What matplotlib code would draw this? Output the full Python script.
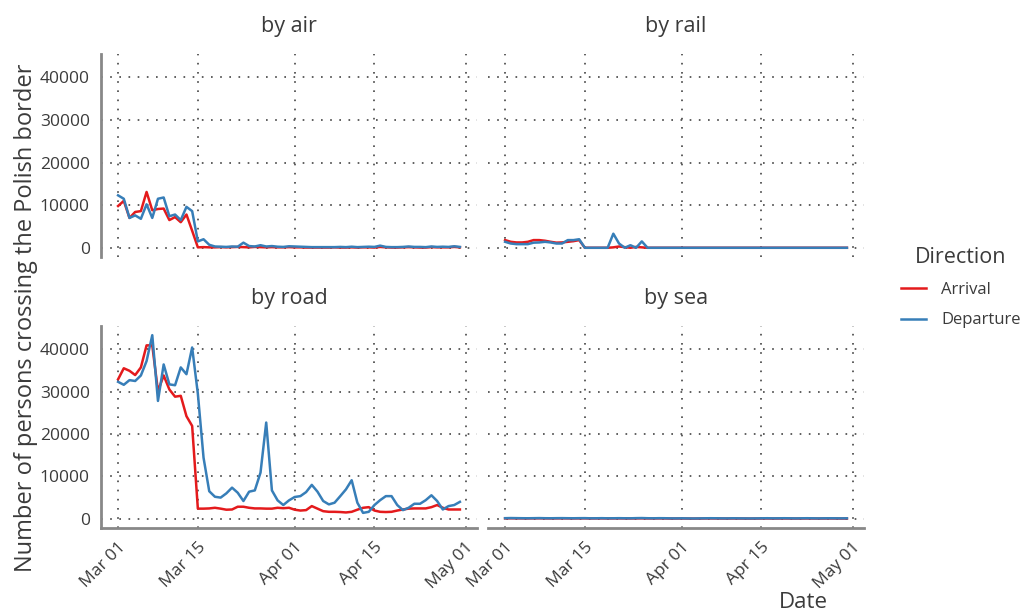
import numpy as np
import pandas as pd
import matplotlib
matplotlib.use("Agg")
import matplotlib.pyplot as plt
import matplotlib.dates as mdates
from matplotlib.lines import Line2D

plt.rcParams["font.family"] = ["Open Sans", "DejaVu Sans"]

dates = pd.date_range("2020-03-01", "2020-04-30", freq="D")

# daily border crossings, one list per transport mode and direction
air_arrival = [9800, 11000, 7000, 8400, 8600, 13100, 8800, 9100, 9200, 6500,
               7200, 6000, 7800, 4000, 100, 150, 100, 100, 150, 100,
               150, 200, 150, 100, 200, 150, 100, 150, 100, 100,
               150, 100, 100, 50, 50, 50, 50, 50, 100, 50,
               50, 100, 50, 100, 100, 50, 200, 100, 50, 50,
               100, 150, 100, 50, 50, 150, 100, 100, 100, 200, 100]
air_departure = [12300, 11500, 7000, 7600, 6800, 10200, 7000, 11500, 11800, 7400,
                 7800, 6500, 9600, 8600, 1500, 2000, 700, 300, 250, 200,
                 300, 250, 1200, 400, 300, 600, 300, 400, 250, 200,
                 350, 300, 250, 200, 150, 150, 150, 150, 150, 200,
                 150, 250, 150, 200, 250, 200, 500, 200, 150, 150,
                 200, 300, 200, 200, 150, 300, 200, 250, 200, 350, 200]

rail_arrival = [1800, 1400, 1250, 1250, 1400, 1800, 1800, 1650, 1400, 1200,
                1250, 1400, 1550, 1800, 0, 0, 0, 0, 0, 100,
                300, 150, 0, 200, 100, 0, 0, 0, 0, 0,
                0, 0, 0, 0, 0, 0, 0, 0, 0, 0,
                0, 0, 0, 0, 0, 0, 0, 0, 0, 0,
                0, 0, 0, 0, 0, 0, 0, 0, 0, 0, 0]
rail_departure = [1400, 1000, 850, 850, 850, 1200, 1250, 1400, 1250, 1000,
                  1000, 1800, 1800, 2000, 0, 0, 0, 0, 0, 3300,
                  1000, 0, 600, 0, 1500, 0, 0, 0, 0, 0,
                  0, 0, 0, 0, 0, 0, 0, 0, 0, 0,
                  0, 0, 0, 0, 0, 0, 0, 0, 0, 0,
                  0, 0, 0, 0, 0, 0, 0, 0, 0, 0, 0]

road_arrival = [32900, 35500, 34900, 33900, 35700, 40900, 40900, 30100, 33800, 30500,
                28800, 29000, 24200, 21900, 2400, 2400, 2450, 2600, 2400, 2150,
                2200, 2850, 2850, 2600, 2450, 2450, 2400, 2400, 2600, 2500,
                2600, 2150, 1950, 2050, 3000, 2400, 1800, 1650, 1650, 1600,
                1500, 1650, 2150, 2600, 2750, 1950, 1650, 1600, 1650, 1950,
                2200, 2400, 2450, 2450, 2450, 2750, 3250, 2600, 2200, 2200, 2200]
road_departure = [32300, 31600, 32700, 32500, 33800, 37200, 43300, 27800, 36400, 31700,
                  31500, 35700, 34100, 40400, 29500, 14400, 6500, 5200, 5000, 6000,
                  7350, 6150, 4200, 6400, 6700, 10900, 22700, 6700, 4350, 3250,
                  4350, 5150, 5350, 6300, 8000, 6400, 4200, 3400, 3800, 5350,
                  6950, 9100, 3800, 1400, 1650, 3250, 4400, 5350, 5350, 3250,
                  2050, 2600, 3550, 3550, 4400, 5550, 4200, 2200, 3000, 3250, 4000]

sea_arrival = [100, 120, 110, 100, 90, 110, 120, 100, 90, 100,
               110, 100, 90, 100, 110, 80, 90, 100, 80, 90,
               100, 90, 80, 100, 110, 90, 80, 100, 90, 60,
               70, 80, 60, 50, 60, 80, 90, 80, 70, 60,
               80, 70, 60, 50, 60, 70, 80, 60, 70, 80,
               70, 60, 70, 80, 70, 60, 70, 80, 70, 60, 70]
sea_departure = [150, 180, 160, 140, 130, 150, 170, 140, 130, 150,
                 160, 140, 130, 150, 160, 120, 130, 150, 120, 130,
                 150, 130, 120, 160, 180, 140, 120, 150, 140, 110,
                 100, 120, 100, 80, 100, 120, 140, 130, 110, 100,
                 130, 110, 100, 90, 100, 120, 140, 110, 120, 140,
                 120, 100, 120, 140, 120, 100, 120, 130, 120, 110, 120]

panels = [
    ("by air", air_arrival, air_departure),
    ("by rail", rail_arrival, rail_departure),
    ("by road", road_arrival, road_departure),
    ("by sea", sea_arrival, sea_departure),
]

RED = "#e41a1c"
BLUE = "#377eb8"
TXT = "#3b3b3b"

W, H = 1028, 615
fig = plt.figure(figsize=(W / 100, H / 100), dpi=100)

# panel boxes in pixels: (left, top, right, bottom)
boxes = [(101, 54, 477, 257), (488, 54, 864, 257),
         (101, 326, 477, 528), (488, 326, 864, 528)]

ymax = max(max(p[1] + p[2]) for p in panels)
ymin = min(min(p[1] + p[2]) for p in panels)
pad_y = (ymax - ymin) * 0.05
span = (dates[-1] - dates[0])
xlo, xhi = dates[0] - span * 0.05, dates[-1] + span * 0.05

for i, ((title, arr, dep), (l, t, r, b)) in enumerate(zip(panels, boxes)):
    ax = fig.add_axes([l / W, 1 - b / H, (r - l) / W, (b - t) / H])
    ax.plot(dates, arr, color=RED, lw=1.8)
    ax.plot(dates, dep, color=BLUE, lw=1.8)
    ax.set_xlim(xlo, xhi)
    ax.set_ylim(ymin - pad_y, ymax + pad_y)
    ax.set_yticks([0, 10000, 20000, 30000, 40000])
    ax.xaxis.set_major_locator(mdates.DayLocator(bymonthday=[1, 15]))
    ax.xaxis.set_major_formatter(mdates.DateFormatter("%b %d"))
    ax.grid(True, linestyle=(0, (1, 4.5)), color="#444444", lw=1.2)
    ax.set_axisbelow(True)
    for s in ax.spines.values():
        s.set_visible(False)
    ax.tick_params(length=0, labelsize=12.5, labelcolor=TXT)
    if i % 2 == 0:
        ax.spines["left"].set_visible(True)
        ax.spines["left"].set_color("#888888")
        ax.spines["left"].set_linewidth(2)
        ax.tick_params(axis="y", pad=8)
    else:
        ax.tick_params(axis="y", labelleft=False)
    if i >= 2:
        ax.spines["bottom"].set_visible(True)
        ax.spines["bottom"].set_color("#888888")
        ax.spines["bottom"].set_linewidth(2)
        plt.setp(ax.get_xticklabels(), rotation=45, ha="right",
                 rotation_mode="anchor")
        ax.tick_params(axis="x", pad=8)
    else:
        ax.tick_params(axis="x", labelbottom=False)
    ax.set_title(title, fontsize=15.5, color=TXT, pad=16)

fig.text(26 / W, 1 - 318 / H, "Number of persons crossing the Polish border",
         rotation=90, ha="center", va="center", fontsize=17, color=TXT)
fig.text(828 / W, 1 - 603 / H, "Date", ha="right", va="center",
         fontsize=16, color=TXT)

handles = [Line2D([], [], color=RED, lw=1.8), Line2D([], [], color=BLUE, lw=1.8)]
leg = fig.legend(handles, ["Arrival", "Departure"], title="Direction",
                 loc="upper left", bbox_to_anchor=(886 / W, 1 - 232 / H),
                 frameon=False, fontsize=12, title_fontsize=15.5,
                 handlelength=1.5, handletextpad=0.9, labelspacing=0.85)
for txt in leg.get_texts():
    txt.set_color(TXT)
leg.get_title().set_color(TXT)

fig.savefig("out.png", dpi=100)
